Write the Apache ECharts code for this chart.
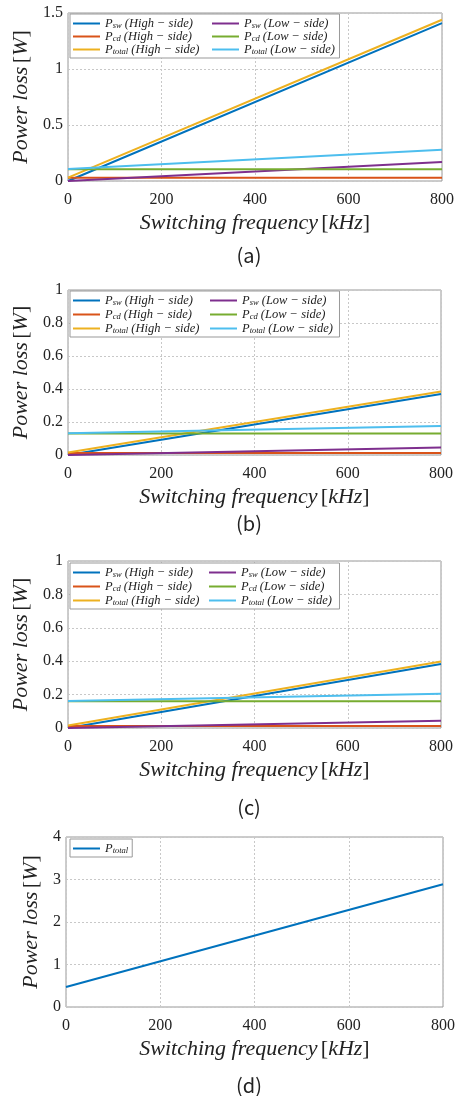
<!DOCTYPE html>
<html>
<head>
<meta charset="utf-8">
<script src="https://cdn.jsdelivr.net/npm/echarts@6/dist/echarts.min.js"></script>
<style>
  html, body { margin: 0; padding: 0; background: #fff; }
  #main { width: 458px; height: 1096px; }
</style>
</head>
<body>
<div id="main"></div>
<script>
// x 轴
const freq = [0, 800];
const xTicks = [0, 200, 400, 600, 800];

// (a)
const aSwHigh = [0.0, 1.41];
const aCdHigh = [0.03, 0.03];
const aTotalHigh = [0.03, 1.44];
const aSwLow = [0.0, 0.17];
const aCdLow = [0.105, 0.105];
const aTotalLow = [0.107, 0.28];
// (b)
const bSwHigh = [0.0, 0.37];
const bCdHigh = [0.012, 0.012];
const bTotalHigh = [0.015, 0.385];
const bSwLow = [0.0, 0.045];
const bCdLow = [0.13, 0.13];
const bTotalLow = [0.132, 0.176];
// (c)
const cSwHigh = [0.0, 0.383];
const cCdHigh = [0.012, 0.012];
const cTotalHigh = [0.015, 0.398];
const cSwLow = [0.0, 0.043];
const cCdLow = [0.16, 0.16];
const cTotalLow = [0.162, 0.205];
// (d)
const dTotal = [0.47, 2.89];

const colors = {
  'sw|High': '#0072BD', 'cd|High': '#D95319', 'total|High': '#EDB120',
  'sw|Low': '#7E2F8E', 'cd|Low': '#77AC30', 'total|Low': '#4DBEEE',
  'total|': '#0072BD'
};

const serif = '"Liberation Serif", "Times New Roman", serif';

let panels = [
  { id: 'a', top: 13, height: 168, left: 68, right: 16, max: 1.5, interval: 0.5, cap: 255, nameGapY: 33,
    lg: { top: 14, col2: 212, gap: 0 },
    lines: [['sw', 'High', aSwHigh], ['cd', 'High', aCdHigh], ['total', 'High', aTotalHigh],
            ['sw', 'Low', aSwLow], ['cd', 'Low', aCdLow], ['total', 'Low', aTotalLow]] },
  { id: 'b', top: 290, height: 165, left: 68, right: 17, max: 1, interval: 0.2, cap: 523, nameGapY: 33,
    lg: { top: 291, col2: 210, gap: 1 },
    lines: [['sw', 'High', bSwHigh], ['cd', 'High', bCdHigh], ['total', 'High', bTotalHigh],
            ['sw', 'Low', bSwLow], ['cd', 'Low', bCdLow], ['total', 'Low', bTotalLow]] },
  { id: 'c', top: 561, height: 167, left: 68, right: 17, max: 1, interval: 0.2, cap: 807, nameGapY: 33,
    lg: { top: 563, col2: 209, gap: 1 },
    lines: [['sw', 'High', cSwHigh], ['cd', 'High', cCdHigh], ['total', 'High', cTotalHigh],
            ['sw', 'Low', cSwLow], ['cd', 'Low', cCdLow], ['total', 'Low', cTotalLow]] },
  { id: 'd', top: 837, height: 170, left: 66, right: 15, max: 4, interval: 1, cap: 1085, nameGapY: 21,
    lg: { top: 839, gap: 0 },
    lines: [['total', '', dTotal]] }
];

// 图例文字 (带下标)
let legendText = (name) => {
  let [, k, side] = name.split('|');
  return side ? `{p|P}{s|${k}}{t| (${side} − side)}` : `{p|P}{s|${k}}`;
};

let legendRich = {
  p: { fontFamily: serif, fontStyle: 'italic', fontSize: 12.5, lineHeight: 12, color: '#222' },
  s: { fontFamily: serif, fontStyle: 'italic', fontSize: 8.5, lineHeight: 8, color: '#222', padding: [4, 0, 0, 0] },
  t: { fontFamily: serif, fontStyle: 'italic', fontSize: 12.5, lineHeight: 12, color: '#222' }
};

let nameRich = {
  i: { fontFamily: serif, fontStyle: 'italic', fontSize: 22, color: '#222' },
  u: { fontFamily: serif, fontSize: 22, color: '#222' }
};

let option = {
  backgroundColor: '#fff',
  animation: false,
  grid: [], xAxis: [], yAxis: [], series: [], legend: [], graphic: []
};

panels.forEach((p, gi) => {
  option.grid.push({
    left: p.left, right: p.right, top: p.top, height: p.height,
    show: true, borderColor: '#999', borderWidth: 1, backgroundColor: '#fff'
  });
  option.xAxis.push({
    type: 'value', gridIndex: gi, min: xTicks[0], max: xTicks[xTicks.length - 1], interval: 200,
    axisLine: { show: false }, axisTick: { show: false },
    axisLabel: { margin: 11, fontFamily: serif, fontSize: 16, color: '#222' },
    splitLine: { show: true, lineStyle: { color: '#c8c8c8', type: [2, 2], width: 1 } },
    name: '{i|Switching frequency} {u|[}{i|kHz}{u|]}',
    nameLocation: 'middle', nameGap: 31, nameTextStyle: { rich: nameRich }
  });
  option.yAxis.push({
    type: 'value', gridIndex: gi, min: 0, max: p.max, interval: p.interval,
    axisLine: { show: false }, axisTick: { show: false },
    axisLabel: { margin: 5, fontFamily: serif, fontSize: 16, color: '#222' },
    splitLine: { show: true, lineStyle: { color: '#c8c8c8', type: [2, 2], width: 1 } },
    name: '{i|Power loss} {u|[}{i|W}{u|]}',
    nameLocation: 'middle', nameGap: p.nameGapY, nameTextStyle: { rich: nameRich }
  });
  p.lines.forEach(([k, side, vals]) => {
    option.series.push({
      name: `${p.id}|${k}|${side}`, type: 'line', xAxisIndex: gi, yAxisIndex: gi,
      showSymbol: false, symbol: 'none', color: colors[k + '|' + side],
      lineStyle: { width: 2 },
      data: freq.map((f, i) => [f, vals[i]])
    });
  });

  let names = p.lines.map(([k, side]) => `${p.id}|${k}|${side}`);
  let high = names.filter(n => !n.endsWith('Low'));
  let low = names.filter(n => n.endsWith('Low'));
  let common = {
    orient: 'vertical', icon: 'rect', itemWidth: 27, itemHeight: 2, itemGap: p.lg.gap,
    formatter: legendText, textStyle: { rich: legendRich }, selectedMode: false
  };
  option.legend.push({
    ...common, data: high, left: 70, top: p.lg.top,
    padding: low.length ? [3, 140, 2, 3] : [3, 4, 2, 3],
    borderColor: '#999', borderWidth: 1, backgroundColor: '#fff', z: 4
  });
  if (low.length) {
    option.legend.push({
      ...common, data: low, left: p.lg.col2, top: p.lg.top + 3, padding: 0, z: 5
    });
  }
  option.graphic.push({
    type: 'text', x: 249, y: p.cap,
    style: { text: `(${p.id})`, align: 'center', verticalAlign: 'middle',
      fontFamily: 'Noto Sans CJK KR', fontSize: 20, fill: '#222' }
  });
});

let chart = echarts.init(document.getElementById('main'));
chart.setOption(option);
</script>
</body>
</html>
